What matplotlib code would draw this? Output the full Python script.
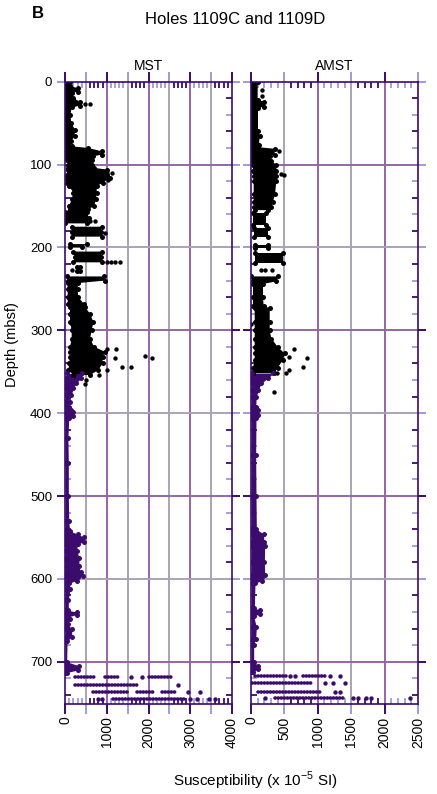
import numpy as np
import matplotlib
matplotlib.use("Agg")
import matplotlib.pyplot as plt
from matplotlib.ticker import FixedLocator, FuncFormatter

plt.rcParams['font.family'] = ['Liberation Sans', 'DejaVu Sans']
plt.rcParams['mathtext.fontset'] = 'custom'
plt.rcParams['mathtext.rm'] = 'Liberation Sans'

nan = np.nan

# ---------------- data ----------------
# depth (mbsf), low / high edge of the dense cloud of points (x 1e-5 SI)
# MST, upper (black) part
mst_blk_d = [0, 5, 8, 12, 14, 20, 24, 29, 31, 40, 50, 58, 66, 72, 78, 80, 84, 88, 90, 94,
             100, 104, 106, 112, 116, 122, 126, 134, 142, 150, 154, 157, 165, 171, nan,
             175, 181, 187, nan, 196, 200, nan, 205, 212, 218, nan, 224, 229, nan,
             235, 240, 243, 250, 260, 268, 272, 280, 290, 300, 310, 320, 326, 332, 340, 348, 354]
mst_blk_lo = [0, 0, 0, 0, 0, 0, 0, 0, 0, 0, 0, 0, 0, 0, 0, 0, 0, 0, 0, 40,
              80, 80, 60, 40, 20, 40, 100, 200, 160, 100, 120, 0, 0, 0, nan,
              160, 160, 160, nan, 120, 120, nan, 200, 240, 200, nan, 280, 280, nan,
              40, 60, 64, 64, 64, 64, 120, 120, 120, 160, 160, 120, 120, 120, 100, 80, 200]
mst_blk_hi = [120, 110, 320, 300, 160, 200, 360, 360, 160, 130, 150, 240, 230, 140, 160, 560, 880, 880, 680, 650,
              640, 700, 1000, 1000, 1080, 900, 760, 760, 740, 700, 560, 520, 580, 520, nan,
              880, 860, 880, nan, 520, 400, nan, 880, 860, 880, nan, 360, 360, nan,
              940, 960, 320, 300, 320, 450, 480, 600, 680, 640, 600, 700, 960, 900, 900, 800, 600]
# MST, lower (purple) part
mst_pur_d = [352, 358, 364, 370, 378, 386, 392, 396, 399, 403, 406, 430, 460, 500, 530, 542,
             546, 550, 555, 558, 566, 575, 585, 592, 596, 598, 602, 605, 612, 625, 638, 640,
             643, 646, 649, 655, 660, 670, 675, 700, 705, 710, 713]
mst_pur_lo = [40, 20, 0, 0, 0, 0, 0, 0, 0, 0, 0, 0, 0, 0, 0, 0,
              0, 0, 0, 0, 0, 0, 0, 0, 0, 40, 40, 0, 0, 0, 0, 0,
              0, 0, 0, 0, 0, 0, 0, 0, 0, 0, 0]
mst_pur_hi = [400, 380, 260, 200, 150, 110, 90, 140, 200, 180, 90, 70, 80, 80, 90, 110,
              300, 460, 460, 300, 280, 340, 330, 380, 420, 320, 280, 100, 120, 80, 80, 280,
              280, 60, 120, 60, 160, 160, 50, 40, 340, 300, 40]
# isolated points
mst_out_d = [27, 27, 110, 110, 119, 168, 168, 183, 218, 218, 218, 218, 227, 227, 293,
             322, 322, 334, 331, 333, 344, 344, 348, 354, 360, 365]
mst_out_v = [480, 600, 1000, 1120, 1040, 600, 720, 960, 1000, 1100, 1200, 1320, 160, 320, 160,
             1000, 1224, 1200, 1920, 2080, 1360, 1584, 1016, 816, 500, 480]
# dotted rows at the base of the hole: depth, start, end
mst_row_d = [718, 718, 718, 728, 737, 737, 737, 745]
mst_row_a = [240, 960, 2000, 240, 670, 1720, 2320, 1150]
mst_row_b = [720, 1320, 2560, 1720, 1510, 2160, 2680, 2880]
mst_dot_d = [718, 718, 728, 737, 737, 745, 745, 745, 745, 745, 745]
mst_dot_v = [1584, 1856, 2710, 2950, 3230, 800, 880, 3000, 3160, 3440, 3590]

# AMST, upper (black) part
amst_blk_d = [0, 22, 24, 30, 32, 60, 65, 76, 79, 81, 88, 90, 96, 100, 108, 114, 120, 135, 145, 151, 155, nan,
              159, 173, nan, 177, 187, nan, 197, 201, nan, 207, 219, nan,
              235, 241, 244, 260, 271, 273, 290, 300, 310, 320, 328, 336, 345, 352]
amst_blk_lo = [0, 0, 0, 0, 0, 0, 0, 0, 0, 0, 0, 0, 20, 30, 30, 40, 40, 40, 40, 50, 55, nan,
               30, 30, nan, 45, 45, nan, 55, 55, nan, 55, 55, nan,
               0, 30, 30, 30, 30, 55, 55, 55, 55, 55, 55, 55, 30, 30]
amst_blk_hi = [100, 100, 200, 200, 105, 105, 130, 120, 105, 355, 355, 280, 300, 380, 380, 380, 380, 360, 330, 300, 255, nan,
               230, 230, nan, 255, 255, nan, 255, 255, nan, 480, 480, nan,
               405, 380, 180, 180, 190, 280, 280, 280, 305, 400, 505, 480, 400, 350]
# AMST, lower (purple) part
amst_pur_d = [352, 358, 364, 372, 380, 392, 396, 402, 406, 450, 500, 540, 546, 556, 560, 580, 595,
              598, 602, 605, 635, 638, 642, 645, 658, 672, 680, 700, 705, 709, 712]
amst_pur_lo = [20, 0, 0, 0, 0, 0, 0, 0, 0, 0, 0, 0, 0, 0, 0, 0, 0,
               20, 20, 0, 0, 0, 0, 0, 0, 0, 0, 0, 0, 0, 0]
amst_pur_hi = [330, 250, 150, 110, 80, 70, 100, 105, 75, 70, 75, 80, 190, 190, 205, 200, 205,
               170, 170, 60, 50, 130, 130, 40, 80, 70, 40, 40, 105, 105, 30]
amst_out_d = [10, 17, 84, 111, 112, 227, 227, 227, 293, 322, 332, 333, 344, 348, 352, 351, 344, 374]
amst_out_v = [165, 165, 420, 455, 490, 155, 205, 320, 0, 644, 564, 843, 778, 564, 529, 394, 344, 339]
amst_row_d = [717, 717, 726, 736, 744]
amst_row_a = [55, 778, 20, 105, 354]
amst_row_b = [529, 1128, 928, 1028, 1377]
amst_dot_d = [717, 717, 717, 717, 726, 726, 726, 736, 736, 744, 744, 744, 744, 744, 744]
amst_dot_v = [579, 654, 1188, 1327, 1103, 1228, 1402, 1252, 1327, 205, 1527, 1602, 1727, 1801, 2375]

depth_ticks = [0, 100, 200, 300, 400, 500, 600, 700]

# ---------------- styling ----------------
DARK = '#3a0a6e'
LAV = '#9c9cd8'
GRID_A = '#9565a6'
GRID_B = '#aaa2b6'
PUR = '#3b0b6e'
YMAX = 751


def draw_cloud(ax, d, lo, hi, color):
    d = np.array(d, float); lo = np.array(lo, float); hi = np.array(hi, float)
    ax.fill_betweenx(d, lo, hi, color=color, lw=0, zorder=3)
    ax.scatter(hi, d, s=13, color=color, lw=0, zorder=4)
    ax.scatter(lo, d, s=13, color=color, lw=0, zorder=4)


def color_ticks(ticks, locs, fn):
    for t, v in zip(ticks, locs):
        c = fn(v)
        for ln in (t.tick1line, t.tick2line):
            ln.set_markeredgecolor(c)
            ln.set_color(c)


def panel(ax, xmax, name, every1000):
    ax.set_xlim(0, xmax)
    ax.set_ylim(YMAX, 0)
    xmaj = list(range(0, xmax + 1, 500))
    xmin = [v for v in range(0, xmax + 1, 100) if v % 500]
    ymin = [v for v in range(0, YMAX, 20) if v % 100]
    ax.xaxis.set_major_locator(FixedLocator(xmaj))
    ax.xaxis.set_minor_locator(FixedLocator(xmin))
    ax.yaxis.set_major_locator(FixedLocator(depth_ticks))
    ax.yaxis.set_minor_locator(FixedLocator(ymin))
    if every1000:
        ax.xaxis.set_major_formatter(FuncFormatter(lambda v, p: '%d' % v if v % 1000 == 0 else ''))
    ax.tick_params(axis='x', which='major', direction='out', length=7.5, width=1.4,
                   top=True, bottom=True, labeltop=False, labelsize=10, labelrotation=90, pad=1.5)
    ax.tick_params(axis='x', which='minor', direction='in', length=4.2, width=1.3, top=True, bottom=True)
    ax.tick_params(axis='y', which='major', direction='out', length=5.8, width=1.4,
                   left=True, right=True, labelsize=9.5, pad=3.5)
    ax.tick_params(axis='y', which='minor', direction='in', length=4.2, width=1.3, left=True, right=True)

    color_ticks(ax.xaxis.get_major_ticks(len(xmaj)), xmaj,
                lambda v: DARK if v % 1000 == 0 else LAV)
    color_ticks(ax.xaxis.get_minor_ticks(len(xmin)), xmin,
                lambda v: LAV if (v // 500) % 2 == 0 else DARK)
    color_ticks(ax.yaxis.get_major_ticks(len(depth_ticks)), depth_ticks,
                lambda v: DARK if v in (300, 500, 700) else LAV)
    color_ticks(ax.yaxis.get_minor_ticks(len(ymin)), ymin,
                lambda v: DARK if (v // 20) % 2 else LAV)

    for v in xmaj[1:-1]:
        ax.axvline(v, color=GRID_A if v % 1000 == 0 else GRID_B, lw=1.4, zorder=1)
    for v in depth_ticks[1:]:
        ax.axhline(v, color=GRID_A if (v // 100) % 2 else GRID_B, lw=1.4, zorder=1)

    for s in ax.spines.values():
        s.set_color(DARK)
        s.set_linewidth(1.2)
        s.set_zorder(5)
    ax.text(0.5, 1.019, name, transform=ax.transAxes, ha='center', va='baseline', fontsize=10)


def draw_rows(ax, d, a, b, dd, dv):
    ax.hlines(d, a, b, color=PUR, lw=2.6, linestyles=(0, (0.1, 0.75)), capstyle='round', zorder=4)
    ax.scatter(dv, dd, s=10, color=PUR, lw=0, zorder=4)


fig = plt.figure(figsize=(4.37, 7.94), dpi=100)
ax1 = fig.add_axes([65 / 437, 1 - 704 / 794, 167 / 437, 622.3 / 794])
ax2 = fig.add_axes([251 / 437, 1 - 704 / 794, 167 / 437, 622.3 / 794])

panel(ax1, 4000, 'MST', True)
panel(ax2, 2500, 'AMST', False)
ax2.tick_params(axis='y', labelleft=False)

draw_cloud(ax1, mst_blk_d, mst_blk_lo, mst_blk_hi, 'black')
draw_cloud(ax1, mst_pur_d, mst_pur_lo, mst_pur_hi, PUR)
ax1.scatter(mst_out_v, mst_out_d, s=10, color='black', lw=0, zorder=4)
draw_rows(ax1, mst_row_d, mst_row_a, mst_row_b, mst_dot_d, mst_dot_v)

draw_cloud(ax2, amst_blk_d, amst_blk_lo, amst_blk_hi, 'black')
draw_cloud(ax2, amst_pur_d, amst_pur_lo, amst_pur_hi, PUR)
ax2.scatter(amst_out_v, amst_out_d, s=10, color='black', lw=0, zorder=4)
draw_rows(ax2, amst_row_d, amst_row_a, amst_row_b, amst_dot_d, amst_dot_v)

fig.text(38 / 437, 1 - 14 / 794, 'B', fontweight='bold', fontsize=12, ha='center', va='center')
fig.text(235.5 / 437, 1 - 19 / 794, 'Holes 1109C and 1109D', fontsize=12, ha='center', va='center')
fig.text(12 / 437, 1 - 345 / 794, 'Depth (mbsf)', rotation=90, fontsize=10.5, ha='center', va='center')
fig.text(255 / 437, 1 - 781 / 794, r'Susceptibility (x 10$^{\mathregular{-5}}$ SI)', fontsize=11,
         ha='center', va='center')

fig.savefig('out.png', dpi=100)
